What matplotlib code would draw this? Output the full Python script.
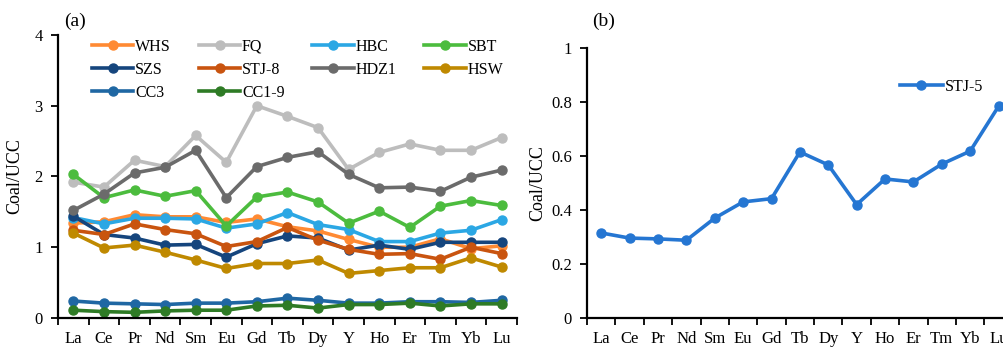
import numpy as np
import matplotlib.pyplot as plt

plt.rcParams['font.family'] = ['Liberation Serif', 'DejaVu Serif']

elements = ['La', 'Ce', 'Pr', 'Nd', 'Sm', 'Eu', 'Gd', 'Tb', 'Dy', 'Y', 'Ho', 'Er', 'Tm', 'Yb', 'Lu']

whs = [1.34, 1.36, 1.46, 1.43, 1.43, 1.35, 1.40, 1.29, 1.23, 1.11, 1.00, 1.00, 1.12, 0.98, 1.02]
fq = [1.92, 1.85, 2.23, 2.14, 2.58, 2.20, 3.00, 2.85, 2.69, 2.10, 2.34, 2.46, 2.37, 2.37, 2.55]
hbc = [1.42, 1.33, 1.41, 1.41, 1.40, 1.27, 1.33, 1.49, 1.32, 1.25, 1.08, 1.08, 1.20, 1.24, 1.39]
sbt = [2.03, 1.70, 1.81, 1.72, 1.80, 1.30, 1.71, 1.78, 1.64, 1.34, 1.51, 1.28, 1.58, 1.66, 1.59]
szs = [1.44, 1.18, 1.13, 1.03, 1.04, 0.86, 1.05, 1.16, 1.13, 0.96, 1.03, 0.97, 1.07, 1.07, 1.07]
stj8 = [1.24, 1.18, 1.33, 1.25, 1.19, 1.01, 1.08, 1.28, 1.10, 0.97, 0.90, 0.91, 0.83, 1.00, 0.91]
hdz1 = [1.52, 1.75, 2.05, 2.13, 2.37, 1.70, 2.14, 2.27, 2.35, 2.03, 1.84, 1.85, 1.79, 1.99, 2.09]
hsw = [1.20, 0.99, 1.03, 0.93, 0.82, 0.70, 0.77, 0.77, 0.82, 0.63, 0.67, 0.71, 0.71, 0.85, 0.72]
cc3 = [0.24, 0.21, 0.20, 0.19, 0.21, 0.21, 0.23, 0.28, 0.25, 0.21, 0.21, 0.23, 0.23, 0.22, 0.25]
cc19 = [0.11, 0.09, 0.08, 0.10, 0.11, 0.11, 0.17, 0.18, 0.14, 0.19, 0.19, 0.21, 0.17, 0.20, 0.20]

stj5 = [0.315, 0.296, 0.293, 0.288, 0.37, 0.43, 0.442, 0.615, 0.567, 0.42, 0.515, 0.504, 0.57, 0.618, 0.784]

series = [
    ('WHS', whs, '#ff8a33'),
    ('FQ', fq, '#bdbdbd'),
    ('HBC', hbc, '#2ba7e4'),
    ('SBT', sbt, '#4cbc3e'),
    ('SZS', szs, '#15457d'),
    ('STJ-8', stj8, '#c9540f'),
    ('HDZ1', hdz1, '#6b6b6b'),
    ('HSW', hsw, '#bf8900'),
    ('CC3', cc3, '#1f67a3'),
    ('CC1-9', cc19, '#2e7b25'),
]

fig = plt.figure(figsize=(10.04, 3.47), dpi=100)
axA = fig.add_axes([0.0578, 0.0836, 0.457, 0.8156])
axB = fig.add_axes([0.5847, 0.0836, 0.424, 0.778])

x = np.arange(len(elements)) + 0.5
handles = {}
for name, vals, col in series:
    ln, = axA.plot(x, vals, '-o', color=col, lw=2.6, ms=6.5, label=name)
    handles[name] = ln

lnB, = axB.plot(x, stj5, '-o', color='#2576d2', lw=2.6, ms=6.5, label='STJ-5')

for ax in (axA, axB):
    ax.set_xlim(0, len(elements))
    ax.set_xticks(np.arange(len(elements) + 1))
    ax.set_xticklabels([])
    ax.set_xticks(x, minor=True)
    ax.set_xticklabels(elements, minor=True, fontsize=12)
    ax.tick_params(axis='x', which='minor', length=0, pad=9.5)
    ax.tick_params(axis='x', which='major', length=5, width=1.3, direction='out')
    ax.tick_params(axis='y', length=5, width=1.3, direction='out', labelsize=12, pad=6)
    for s in ('top', 'right'):
        ax.spines[s].set_visible(False)
    for s in ('left', 'bottom'):
        ax.spines[s].set_linewidth(1.6)
    ax.set_ylabel('Coal/UCC', fontsize=13)

axA.set_ylim(0, 4)
axA.set_yticks([0, 1, 2, 3, 4])
axA.yaxis.set_label_coords(-0.075, 0.5)
axB.set_ylim(0, 1)
axB.set_yticks([0, 0.2, 0.4, 0.6, 0.8, 1.0])
axB.set_yticklabels(['0', '0.2', '0.4', '0.6', '0.8', '1'])
axB.yaxis.set_label_coords(-0.095, 0.5)

order = ['WHS', 'SZS', 'CC3', 'FQ', 'STJ-8', 'CC1-9', 'HBC', 'HDZ1', 'SBT', 'HSW']
axA.legend([handles[n] for n in order], order, ncol=4, frameon=False,
           loc='upper left', bbox_to_anchor=(0.06, 1.01), fontsize=11.5,
           handlelength=2.6, handletextpad=0.1, columnspacing=1.75,
           labelspacing=0.45, borderaxespad=0)
axB.legend([lnB], ['STJ-5'], frameon=False, loc='upper left',
           bbox_to_anchor=(0.72, 0.91), fontsize=11.5,
           handlelength=2.7, handletextpad=0.1, borderaxespad=0)

fig.text(0.064, 0.925, '(a)', fontsize=14)
fig.text(0.590, 0.925, '(b)', fontsize=14)

fig.savefig('out.png', dpi=100)
